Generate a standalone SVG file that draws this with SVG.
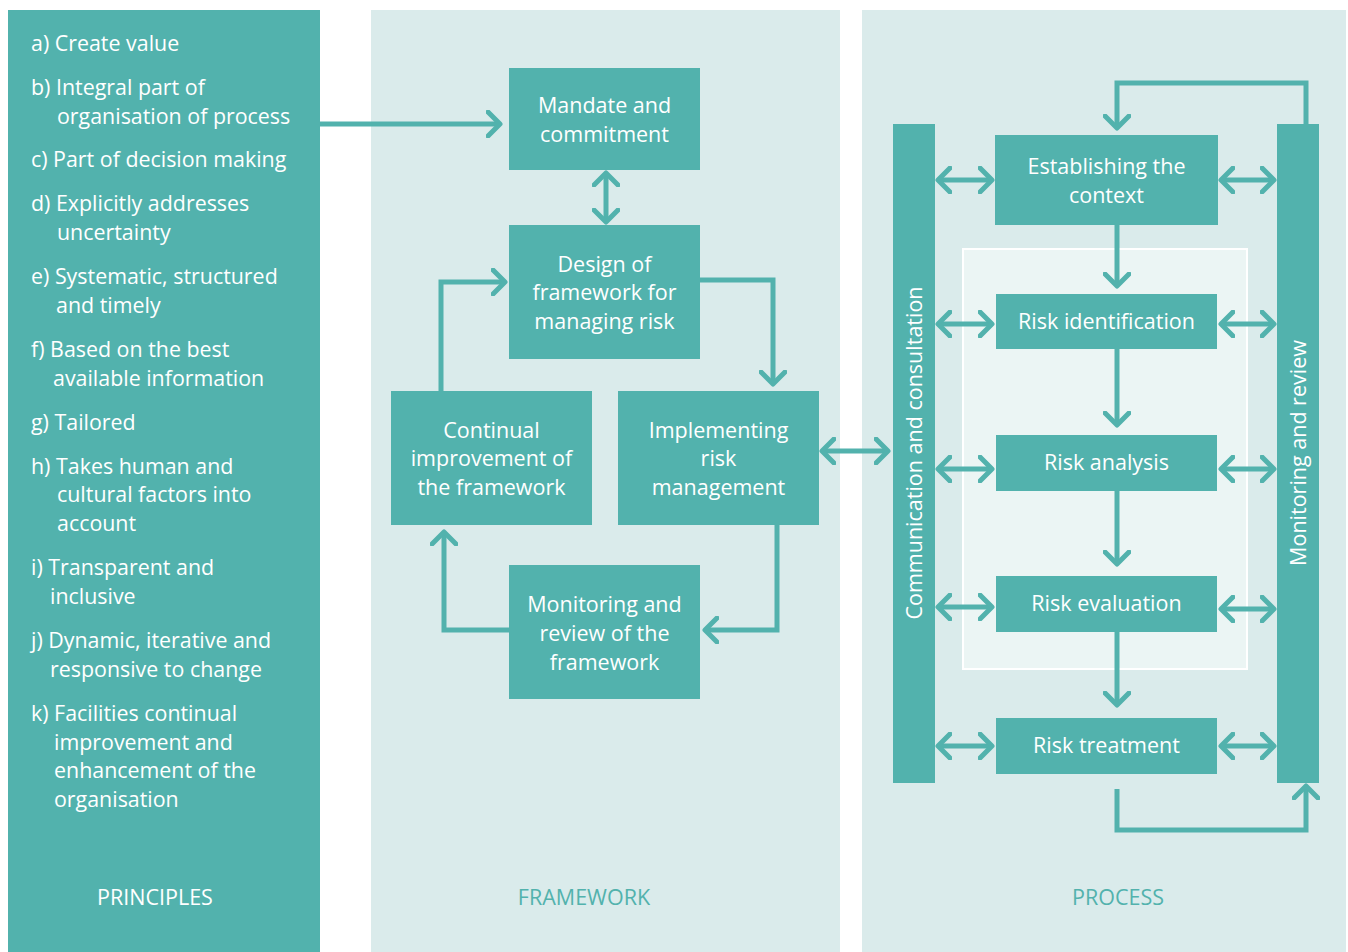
<svg xmlns="http://www.w3.org/2000/svg" width="1348" height="952" viewBox="0 0 1348 952">
<defs>
<marker id="chev" viewBox="-14 -14 20 28" markerWidth="20" markerHeight="28" refX="0" refY="0" markerUnits="userSpaceOnUse" orient="auto-start-reverse">
<path d="M -12 -12 L 0 0 L -12 12" fill="none" stroke="#52b2ad" stroke-width="5" stroke-linecap="round" stroke-linejoin="round"/>
</marker>
<style>
.panel-dark{fill:#52b2ad}
.panel-light{fill:#daebeb}
.box{fill:#52b2ad}
.t{font-family:"Open Sans","Liberation Sans",sans-serif;font-size:21.5px;fill:#ffffff;text-anchor:middle}
.p{font-family:"Open Sans","Liberation Sans",sans-serif;font-size:21.4px;fill:#ffffff}
.lbl{font-family:"Open Sans","Liberation Sans",sans-serif;font-size:21.5px;text-anchor:middle}
.c{fill:none;stroke:#52b2ad;stroke-width:5}
.a{marker-end:url(#chev)}
.d{marker-start:url(#chev);marker-end:url(#chev)}
</style>
</defs>
<rect width="1348" height="952" fill="#ffffff"/>
<g id="principles">
<rect class="panel-dark" x="8" y="10" width="312" height="942"/>
<text class="p" x="31" y="51">a) Create value</text>
<text class="p" x="31" y="95">b) Integral part of</text>
<text class="p" x="57" y="124">organisation of process</text>
<text class="p" x="31" y="167">c) Part of decision making</text>
<text class="p" x="31" y="211">d) Explicitly addresses</text>
<text class="p" x="57" y="240">uncertainty</text>
<text class="p" x="31" y="284">e) Systematic, structured</text>
<text class="p" x="56" y="313">and timely</text>
<text class="p" x="31" y="357">f) Based on the best</text>
<text class="p" x="53" y="386">available information</text>
<text class="p" x="31" y="430">g) Tailored</text>
<text class="p" x="31" y="474">h) Takes human and</text>
<text class="p" x="57" y="502">cultural factors into</text>
<text class="p" x="57" y="531">account</text>
<text class="p" x="31" y="575">i) Transparent and</text>
<text class="p" x="50" y="604">inclusive</text>
<text class="p" x="31" y="648">j) Dynamic, iterative and</text>
<text class="p" x="50" y="677">responsive to change</text>
<text class="p" x="31" y="721">k) Facilities continual</text>
<text class="p" x="54" y="750">improvement and</text>
<text class="p" x="54" y="778">enhancement of the</text>
<text class="p" x="54" y="807">organisation</text>
<text class="lbl" x="155" y="905" fill="#ffffff">PRINCIPLES</text>
</g>
<g id="framework-panel">
<rect class="panel-light" x="371" y="10" width="469" height="942"/>
<text class="lbl" x="584" y="905" fill="#52b2ad">FRAMEWORK</text>
</g>
<g id="process-panel">
<rect class="panel-light" x="862" y="10" width="484" height="942"/>
<rect x="963" y="249" width="284" height="420" fill="#ebf5f4" stroke="#ffffff" stroke-width="2"/>
<text class="lbl" x="1118" y="905" fill="#52b2ad">PROCESS</text>
</g>
<g id="connectors">
<line class="c a" x1="320" y1="124" x2="500" y2="124"/>
<line class="c d" x1="606" y1="173" x2="606" y2="222"/>
<polyline class="c a" points="700,280 773,280 773,384"/>
<polyline class="c a" points="441,391 441,282 505,282"/>
<polyline class="c a" points="777,525 777,630 705,630"/>
<polyline class="c a" points="509,630 444,630 444,532"/>
<line class="c d" x1="822" y1="451" x2="888" y2="451"/>
<polyline class="c a" points="1306,124 1306,83 1117,83 1117,128"/>
<line class="c a" x1="1117" y1="225" x2="1117" y2="286"/>
<line class="c a" x1="1117" y1="349" x2="1117" y2="425"/>
<line class="c a" x1="1117" y1="491" x2="1117" y2="564"/>
<line class="c a" x1="1117" y1="632" x2="1117" y2="705"/>
<polyline class="c a" points="1117,789 1117,830 1306,830 1306,786"/>
<line class="c d" x1="938" y1="180" x2="992" y2="180"/>
<line class="c d" x1="1221" y1="180" x2="1274" y2="180"/>
<line class="c d" x1="938" y1="324" x2="992" y2="324"/>
<line class="c d" x1="1221" y1="324" x2="1274" y2="324"/>
<line class="c d" x1="938" y1="469" x2="992" y2="469"/>
<line class="c d" x1="1221" y1="469" x2="1274" y2="469"/>
<line class="c d" x1="938" y1="607" x2="992" y2="607"/>
<line class="c d" x1="1221" y1="609" x2="1274" y2="609"/>
<line class="c d" x1="938" y1="746" x2="992" y2="746"/>
<line class="c d" x1="1221" y1="746" x2="1274" y2="746"/>
</g>
<g id="mandate"><rect class="box" x="509" y="68" width="191" height="102"/>
<text class="t" x="604.5" y="113">Mandate and</text><text class="t" x="604.5" y="142">commitment</text></g>
<g id="design"><rect class="box" x="509" y="225" width="191" height="134"/>
<text class="t" x="604.5" y="272">Design of</text><text class="t" x="604.5" y="300">framework for</text><text class="t" x="604.5" y="329">managing risk</text></g>
<g id="continual"><rect class="box" x="391" y="391" width="201" height="134"/>
<text class="t" x="491.5" y="438">Continual</text><text class="t" x="491.5" y="466">improvement of</text><text class="t" x="491.5" y="495">the framework</text></g>
<g id="implementing"><rect class="box" x="618" y="391" width="201" height="134"/>
<text class="t" x="718.5" y="438">Implementing</text><text class="t" x="718.5" y="466">risk</text><text class="t" x="718.5" y="495">management</text></g>
<g id="monitoring-framework"><rect class="box" x="509" y="565" width="191" height="134"/>
<text class="t" x="604.5" y="612">Monitoring and</text><text class="t" x="604.5" y="641">review of the</text><text class="t" x="604.5" y="670">framework</text></g>
<g id="communication"><rect class="box" x="893" y="124" width="42" height="659"/>
<text class="t" transform="translate(922 453) rotate(-90)">Communication and consultation</text></g>
<g id="monitoring-review"><rect class="box" x="1277" y="124" width="42" height="659"/>
<text class="t" transform="translate(1306 453) rotate(-90)">Monitoring and review</text></g>
<g id="establishing"><rect class="box" x="995" y="135" width="223" height="90"/>
<text class="t" x="1106.5" y="174">Establishing the</text><text class="t" x="1106.5" y="203">context</text></g>
<g id="identification"><rect class="box" x="996" y="294" width="221" height="55"/>
<text class="t" x="1106.5" y="329">Risk identification</text></g>
<g id="analysis"><rect class="box" x="996" y="435" width="221" height="56"/>
<text class="t" x="1106.5" y="470">Risk analysis</text></g>
<g id="evaluation"><rect class="box" x="996" y="576" width="221" height="56"/>
<text class="t" x="1106.5" y="611">Risk evaluation</text></g>
<g id="treatment"><rect class="box" x="996" y="718" width="221" height="56"/>
<text class="t" x="1106.5" y="753">Risk treatment</text></g>
</svg>
